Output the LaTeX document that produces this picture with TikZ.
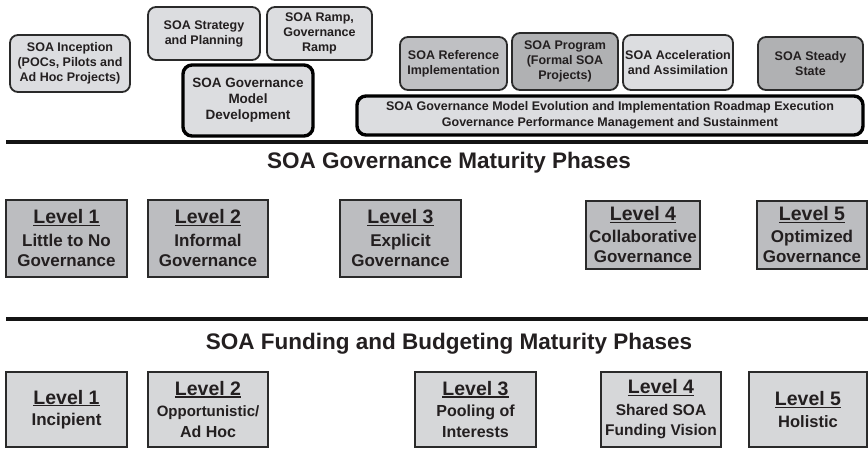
\documentclass[tikz,border=0pt]{standalone}
\usepackage{fontspec}
\setmainfont{Liberation Sans}
\definecolor{txt}{HTML}{231F20}
\definecolor{lightbox}{HTML}{DCDDE0}
\definecolor{darkbox}{HTML}{BFC0C3}
\definecolor{govbox}{HTML}{BCBDC0}
\definecolor{fundbox}{HTML}{D6D7D9}
\definecolor{edge}{HTML}{2A2A2A}
\newcommand{\lvl}[1]{\setbox0\hbox{#1}\rlap{\rule[-2.4pt]{\wd0}{1.5pt}}\box0}
\begin{document}
\begin{tikzpicture}[x=1pt,y=-1pt,
  phase/.style={draw=edge, line width=1.8pt, rounded corners=8pt, fill=lightbox,
    align=center, inner sep=1pt, text=txt,
    font=\bfseries\fontsize{12.5}{15}\selectfont},
  phasedark/.style={phase, fill=darkbox},
  phasethick/.style={phase, line width=3.4pt, draw=black, rounded corners=9pt},
  rulebar/.style={line width=4pt, draw=black!92},
  heading/.style={text=txt, font=\bfseries\fontsize{22.5}{26}\selectfont},
  govlvl/.style={draw=edge, line width=1.8pt, fill=govbox, align=center,
    inner sep=1pt, text=txt, font=\bfseries\fontsize{17}{20.5}\selectfont},
  fundlvl/.style={govlvl, fill=fundbox, font=\bfseries\fontsize{16}{20.5}\selectfont},
]
\useasboundingbox (0,0) rectangle (868,448);

% --- top phases ---
\node[phase, minimum width=120pt, minimum height=57pt] (inc) at (70,63.5)
  {SOA Inception\\(POCs, Pilots and\\Ad Hoc Projects)};
\node[phase, minimum width=112pt, minimum height=53pt] (strat) at (204,33.5)
  {SOA Strategy\\and Planning};
\node[phase, minimum width=105pt, minimum height=53pt] (ramp) at (319.5,33.5)
  {SOA Ramp,\\Governance\\Ramp};
\node[phasethick, minimum width=130pt, minimum height=71pt, font=\bfseries\fontsize{13.5}{16}\selectfont] (gmd) at (248,100.5)
  {SOA Governance\\Model\\Development};
\node[phasedark, minimum width=107pt, minimum height=53pt] (ref) at (453.5,63.5)
  {SOA Reference\\Implementation};
\node[phasedark, minimum width=106pt, minimum height=57pt, fill=darkbox!92!black] (prog) at (565,61.5)
  {SOA Program\\(Formal SOA\\Projects)};
\node[phase, minimum width=110pt, minimum height=55pt] (acc) at (678,62.5)
  {SOA Acceleration\\and Assimilation};
\node[phasedark, minimum width=105pt, minimum height=53pt, fill=darkbox!92!black] (steady) at (810.5,63.5)
  {SOA Steady\\State};
\node[phasethick, minimum width=506pt, minimum height=39pt, font=\bfseries\fontsize{12.5}{16}\selectfont] (wide) at (610,115.5)
  {SOA Governance Model Evolution and Implementation Roadmap Execution\\Governance Performance Management and Sustainment};

% --- governance maturity ---
\coordinate (r1a) at (6,142);
\coordinate (r1b) at (868,142);
\draw[rulebar] (r1a) -- (r1b);
\node[heading] (govtitle) at (449,163) {SOA Governance Maturity Phases};

\node[govlvl, minimum width=121pt, minimum height=77pt] (g1) at (66.5,238.5)
  {{\fontsize{19.5}{22}\selectfont\lvl{Level 1}}\\[2pt]Little to No\\Governance};
\node[govlvl, minimum width=120pt, minimum height=77pt] (g2) at (208,238.5)
  {{\fontsize{19.5}{22}\selectfont\lvl{Level 2}}\\[2pt]Informal\\Governance};
\node[govlvl, minimum width=121pt, minimum height=77pt] (g3) at (400.5,238.5)
  {{\fontsize{19.5}{22}\selectfont\lvl{Level 3}}\\[2pt]Explicit\\Governance};
\node[govlvl, minimum width=114pt, minimum height=68pt] (g4) at (643,235)
  {{\fontsize{19.5}{22}\selectfont\lvl{Level 4}}\\[1pt]Collaborative\\Governance};
\node[govlvl, minimum width=110pt, minimum height=68pt] (g5) at (812,235)
  {{\fontsize{19.5}{22}\selectfont\lvl{Level 5}}\\[1pt]Optimized\\Governance};

% --- funding maturity ---
\coordinate (r2a) at (6,319);
\coordinate (r2b) at (868,319);
\draw[rulebar] (r2a) -- (r2b);
\node[heading] (fundtitle) at (449,344) {SOA Funding and Budgeting Maturity Phases};

\node[fundlvl, minimum width=121pt, minimum height=75pt, font=\bfseries\fontsize{17}{20.5}\selectfont] (f1) at (66.5,409.5)
  {{\fontsize{19.5}{22}\selectfont\lvl{Level 1}}\\[1pt]Incipient};
\node[fundlvl, minimum width=120pt, minimum height=75pt] (f2) at (208,409.5)
  {{\fontsize{19.5}{22}\selectfont\lvl{Level 2}}\\[1pt]{\fontsize{15}{18}\selectfont Opportunistic/}\\Ad Hoc};
\node[fundlvl, minimum width=121pt, minimum height=75pt] (f3) at (475.5,409.5)
  {{\fontsize{19.5}{22}\selectfont\lvl{Level 3}}\\[1pt]Pooling of\\Interests};
\node[fundlvl, minimum width=120pt, minimum height=75pt, font=\bfseries\fontsize{15.5}{20.5}\selectfont] (f4) at (661,409.5)
  {{\fontsize{19.5}{22}\selectfont\lvl{Level 4}}\\[1pt]Shared SOA\\Funding Vision};
\node[fundlvl, minimum width=118pt, minimum height=75pt, font=\bfseries\fontsize{16.5}{20.5}\selectfont] (f5) at (808,409.5)
  {{\fontsize{19.5}{22}\selectfont\lvl{Level 5}}\\[1pt]Holistic};
\end{tikzpicture}
\end{document}
